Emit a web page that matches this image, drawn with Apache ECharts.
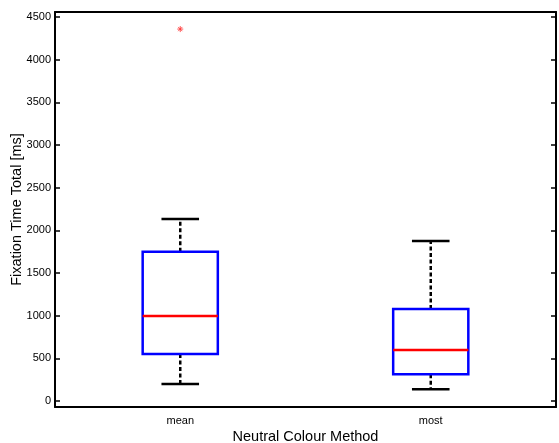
<!DOCTYPE html>
<html>
<head>
<meta charset="utf-8">
<script src="https://cdn.jsdelivr.net/npm/echarts@6/dist/echarts.min.js"></script>
<style>
  html, body { margin: 0; padding: 0; background: #fff; }
  #main { width: 559px; height: 443px; }
</style>
</head>
<body>
<div id="main"></div>
<script>
// box statistics per group
const categories = ['mean', 'most']
const whiskerLow = [199, 137]
const q1 = [551, 313]
const median = [996, 598]
const q3 = [1750, 1079]
const whiskerHigh = [2133, 1876]
// outliers: [group index, value]
const outliers = [[0, 4360]]

const yMin = -70
const yMax = 4560

const boxData = categories.map((c, i) => [i, whiskerLow[i], q1[i], median[i], q3[i], whiskerHigh[i]])

function renderBox (params, api) {
  const i = api.value(0)
  const x = api.coord([i, 0])[0]
  const band = api.size([1, 0])[0]
  const half = band * 0.15
  const cap = band * 0.075
  const y = v => api.coord([i, v])[1]
  const lo = y(api.value(1)), b1 = y(api.value(2)), md = y(api.value(3))
  const b3 = y(api.value(4)), hi = y(api.value(5))
  const dash = { stroke: '#000', lineWidth: 2.5, lineDash: [4, 2.5] }
  const solid = { stroke: '#000', lineWidth: 2.5 }
  return {
    type: 'group',
    children: [
      { type: 'line', shape: { x1: x, y1: b1, x2: x, y2: lo }, style: dash },
      { type: 'line', shape: { x1: x, y1: b3, x2: x, y2: hi }, style: dash },
      { type: 'line', shape: { x1: x - cap, y1: lo, x2: x + cap, y2: lo }, style: solid },
      { type: 'line', shape: { x1: x - cap, y1: hi, x2: x + cap, y2: hi }, style: solid },
      { type: 'rect', shape: { x: x - half, y: b3, width: half * 2, height: b1 - b3 },
        style: { fill: 'none', stroke: '#0000ff', lineWidth: 2.5 } },
      { type: 'line', shape: { x1: x - half, y1: md, x2: x + half, y2: md },
        style: { stroke: '#ff0000', lineWidth: 2.5 } }
    ]
  }
}

const font = 'Liberation Sans, Arial, sans-serif'
const tickStyle = { color: '#000', width: 1.5 }
const myChart = echarts.init(document.getElementById('main'))
const option = {
  animation: false,
  grid: { left: 55, right: 3, top: 12, bottom: 36, outerBoundsMode: 'none', containLabel: false },
  xAxis: [{
    type: 'category',
    data: categories,
    name: 'Neutral Colour Method',
    nameLocation: 'middle',
    nameGap: 22,
    nameMoveOverlap: false,
    nameTextStyle: { color: '#000', fontSize: 14.5, fontFamily: font },
    axisLine: { onZero: false, lineStyle: { color: '#000', width: 2 } },
    axisTick: { inside: true, length: 5, alignWithLabel: true, interval: 0, lineStyle: tickStyle },
    axisLabel: { color: '#000', fontSize: 11, fontFamily: font, margin: 8 },
    splitLine: { show: false }
  }, {
    type: 'category',
    data: categories,
    position: 'top',
    axisLine: { onZero: false, lineStyle: { color: '#000', width: 2 } },
    axisTick: { inside: true, length: 5, alignWithLabel: true, interval: 0, lineStyle: tickStyle },
    axisLabel: { show: false },
    splitLine: { show: false }
  }],
  yAxis: [{
    type: 'value',
    min: yMin,
    max: yMax,
    splitNumber: 9,
    name: 'Fixation Time Total [ms]',
    nameLocation: 'middle',
    nameGap: 31,
    nameMoveOverlap: false,
    nameTextStyle: { color: '#000', fontSize: 14.5, fontFamily: font },
    axisLine: { show: true, onZero: false, lineStyle: { color: '#000', width: 2 } },
    axisTick: { show: true, inside: true, length: 5, lineStyle: tickStyle },
    axisLabel: {
      color: '#000', fontSize: 11, fontFamily: font, margin: 4,
      showMinLabel: false, showMaxLabel: false,
      formatter: v => String(v)
    },
    splitLine: { show: false }
  }, {
    type: 'value',
    min: yMin,
    max: yMax,
    splitNumber: 9,
    position: 'right',
    axisLine: { show: true, onZero: false, lineStyle: { color: '#000', width: 2 } },
    axisTick: { show: true, inside: true, length: 5, lineStyle: tickStyle },
    axisLabel: { show: false },
    splitLine: { show: false }
  }],
  series: [{
    type: 'custom',
    renderItem: renderBox,
    data: boxData,
    encode: { x: 0, y: [1, 2, 3, 4, 5] },
    z: 2
  }, {
    type: 'scatter',
    data: outliers,
    symbol: 'path://M0,-5L0,5M-5,0L5,0M-3.5,-3.5L3.5,3.5M-3.5,3.5L3.5,-3.5',
    symbolSize: 6,
    itemStyle: { color: 'none', borderColor: '#ff3030', borderWidth: 1 },
    z: 3
  }]
}
myChart.setOption(option)
</script>
</body>
</html>
